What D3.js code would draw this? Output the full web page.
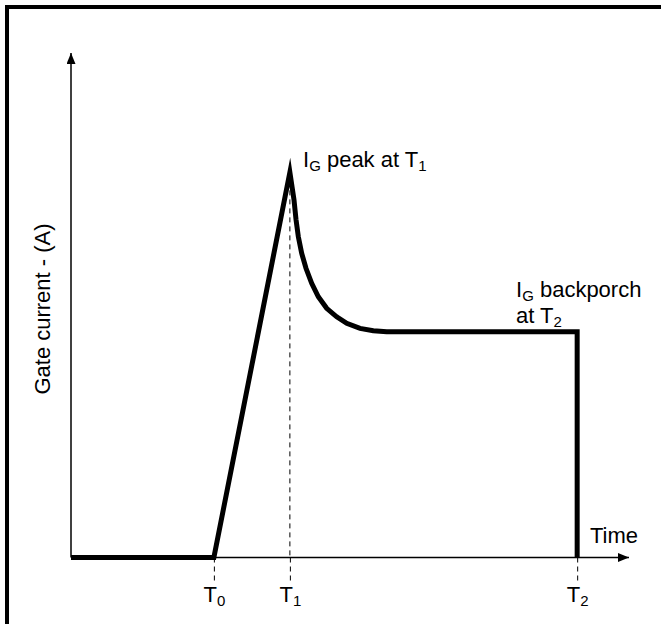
<!DOCTYPE html>
<html>
<head>
<meta charset="utf-8">
<script src="https://cdn.jsdelivr.net/npm/d3@7"></script>
<style>
  body { margin: 0; background: #fff; }
  text { font-family: "Liberation Sans", Arial, sans-serif; fill: #000; }
</style>
</head>
<body>
<div class="canvas"></div>
<script>
// time in arbitrary units, current normalised to peak
const tickNames = ['0', '1', '2'];
const tickTimes = [1.88, 2.88, 6.66];

const waveTime = [0, 1.88, 2.88, 2.934, 2.961, 2.991, 3.035, 3.092, 3.167, 3.254, 3.364, 3.496, 3.628, 3.803, 3.978, 4.154, 6.66, 6.66];
const waveCurrent = [0, 0, 1.0, 0.929, 0.877, 0.833, 0.79, 0.751, 0.712, 0.677, 0.647, 0.625, 0.608, 0.595, 0.589, 0.586, 0.586, 0];

const svg = d3.select('.canvas')
    .append('svg')
    .attr('width', 661)
    .attr('height', 624);

// outer frame (right/bottom fall outside the picture)
svg.append('rect')
    .attr('x', 7)
    .attr('y', 7)
    .attr('width', 700)
    .attr('height', 700)
    .attr('fill', 'none')
    .attr('stroke', '#000')
    .attr('stroke-width', 4);

const x = d3.scaleLinear()
    .domain([0, 7.342])
    .range([71, 629]);

const y = d3.scaleLinear()
    .domain([0, 1.31])
    .range([557.5, 53]);

const defs = svg.append('defs');
defs.append('marker')
    .attr('id', 'arrow')
    .attr('viewBox', '0 0 11 9')
    .attr('refX', 11)
    .attr('refY', 4.5)
    .attr('markerWidth', 11)
    .attr('markerHeight', 9)
    .attr('markerUnits', 'userSpaceOnUse')
    .attr('orient', 'auto')
  .append('path')
    .attr('d', 'M0,0 L11,4.5 L0,9 Z')
    .attr('fill', '#000');

// x axis with dashed ticks
const xAxisGroup = svg.append('g')
    .attr('transform', `translate(0, ${y(0)})`);

const xAxis = d3.axisBottom(x)
    .tickValues(tickTimes)
    .tickSize(23)
    .tickFormat('');

xAxisGroup.call(xAxis);
xAxisGroup.select('.domain').remove();
xAxisGroup.selectAll('.tick line')
    .attr('stroke', '#000')
    .attr('stroke-width', 1)
    .attr('stroke-dasharray', '5,4');

xAxisGroup.selectAll('.tick').each(function(d, i) {
    const t = d3.select(this).append('text')
        .attr('y', 44)
        .attr('text-anchor', 'middle')
        .attr('font-size', 22);
    t.append('tspan').text('T');
    t.append('tspan').attr('font-size', 15).attr('dy', 4).text(tickNames[i]);
});

svg.append('line')
    .attr('x1', x(0)).attr('x2', x(7.342))
    .attr('y1', y(0)).attr('y2', y(0))
    .attr('stroke', '#000')
    .attr('stroke-width', 1.5)
    .attr('marker-end', 'url(#arrow)');

svg.append('line')
    .attr('x1', x(0)).attr('x2', x(0))
    .attr('y1', y(0)).attr('y2', y(1.31))
    .attr('stroke', '#000')
    .attr('stroke-width', 1.5)
    .attr('marker-end', 'url(#arrow)');

// dashed drop from the peak
svg.append('line')
    .attr('x1', x(tickTimes[1])).attr('x2', x(tickTimes[1]))
    .attr('y1', y(1.0)).attr('y2', y(0))
    .attr('stroke', '#000')
    .attr('stroke-width', 1)
    .attr('stroke-dasharray', '5,4');

const points = waveTime.map((t, i) => [t, waveCurrent[i]]);
const line = d3.line()
    .x(d => x(d[0]))
    .y(d => y(d[1]));

svg.append('path')
    .datum(points)
    .attr('d', line)
    .attr('fill', 'none')
    .attr('stroke', '#000')
    .attr('stroke-width', 5)
    .attr('stroke-linejoin', 'miter')
    .attr('stroke-miterlimit', 10);

// labels
svg.append('text')
    .attr('transform', 'translate(50, 309) rotate(-90)')
    .attr('text-anchor', 'middle')
    .attr('font-size', 22)
    .text('Gate current - (A)');

svg.append('text')
    .attr('x', 590)
    .attr('y', 543)
    .attr('font-size', 22)
    .text('Time');

const peakLabel = svg.append('text')
    .attr('x', 303)
    .attr('y', 167)
    .attr('font-size', 22);
peakLabel.append('tspan').text('I');
peakLabel.append('tspan').attr('font-size', 15).attr('dy', 4).text('G');
peakLabel.append('tspan').attr('dy', -4).text(' peak at T');
peakLabel.append('tspan').attr('font-size', 15).attr('dy', 4).text('1');

const backLabel = svg.append('text')
    .attr('x', 516)
    .attr('y', 297)
    .attr('font-size', 22);
backLabel.append('tspan').text('I');
backLabel.append('tspan').attr('font-size', 15).attr('dy', 4).text('G');
backLabel.append('tspan').attr('dy', -4).text(' backporch');

const backLabel2 = svg.append('text')
    .attr('x', 516)
    .attr('y', 323)
    .attr('font-size', 22);
backLabel2.append('tspan').text('at T');
backLabel2.append('tspan').attr('font-size', 15).attr('dy', 4).text('2');
</script>
</body>
</html>
